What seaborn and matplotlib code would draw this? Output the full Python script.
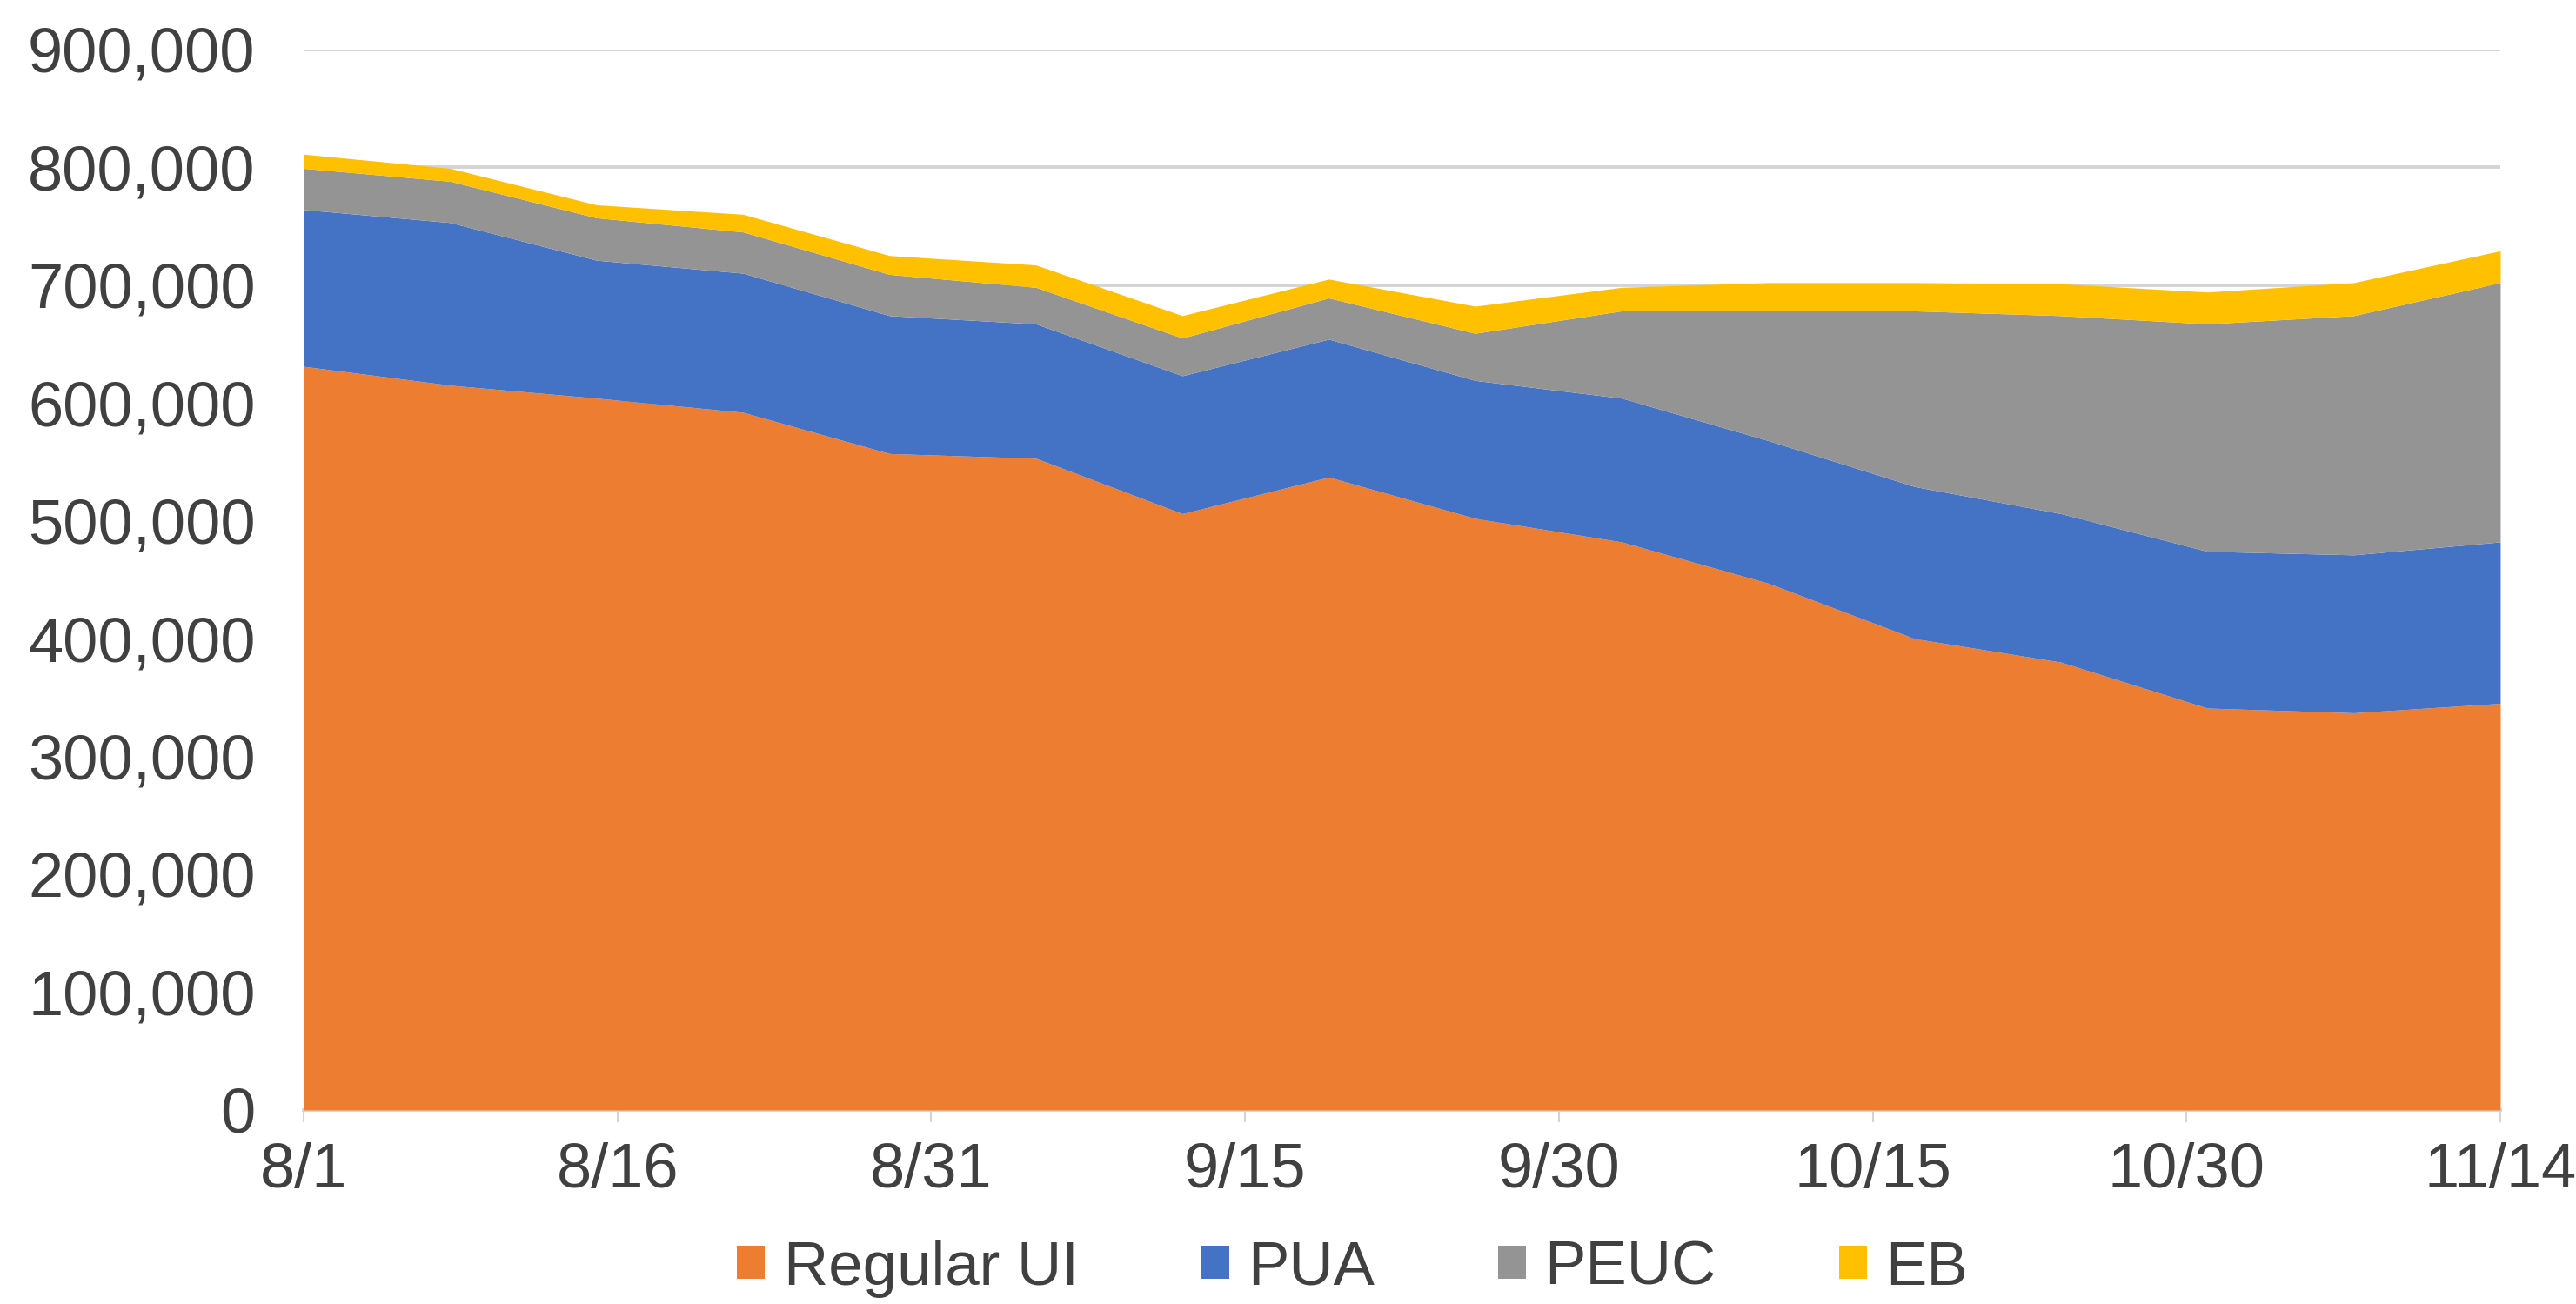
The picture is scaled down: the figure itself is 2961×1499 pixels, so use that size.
import pandas as pd
import matplotlib
matplotlib.use("Agg")
import matplotlib.pyplot as plt
from matplotlib.patches import Patch
from matplotlib.ticker import FuncFormatter
import seaborn as sns

# weekly claims, week ending dates
week_ending = ["2020-08-01", "2020-08-08", "2020-08-15", "2020-08-22",
               "2020-08-29", "2020-09-05", "2020-09-12", "2020-09-19",
               "2020-09-26", "2020-10-03", "2020-10-10", "2020-10-17",
               "2020-10-24", "2020-10-31", "2020-11-07", "2020-11-14"]

regular_ui = [631000, 615000, 604000, 592000, 557000, 553000, 506000, 537000,
              502000, 482000, 447000, 400000, 380000, 341000, 337000, 345000]
pua = [133000, 138000, 117000, 118000, 117000, 114000, 117000, 117000,
       117000, 122000, 121000, 129000, 126000, 133000, 134000, 137000]
peuc = [35000, 35000, 36000, 35000, 35000, 31000, 32000, 35000,
        40000, 74000, 110000, 149000, 168000, 193000, 203000, 220000]
eb = [12000, 11000, 11000, 15000, 16000, 19000, 19000, 16000,
      23000, 20000, 24000, 24000, 27000, 27000, 28000, 27000]

series_names = ["Regular UI", "PUA", "PEUC", "EB"]
series_colors = ["#ED7D31", "#4472C4", "#949494", "#FFC000"]

tick_dates = ["2020-08-01", "2020-08-16", "2020-08-31", "2020-09-15",
              "2020-09-30", "2020-10-15", "2020-10-30", "2020-11-14"]
tick_labels = ["8/1", "8/16", "8/31", "9/15", "9/30", "10/15", "10/30", "11/14"]
y_ticks = [0, 100000, 200000, 300000, 400000, 500000, 600000, 700000, 800000, 900000]

df = pd.DataFrame({"date": pd.to_datetime(week_ending),
                   "Regular UI": regular_ui, "PUA": pua,
                   "PEUC": peuc, "EB": eb})

sns.set_theme(style="white")
plt.rcParams["font.family"] = ["Liberation Sans", "DejaVu Sans"]
text_color = "#404040"
palette = sns.color_palette(series_colors)

fig = plt.figure(figsize=(29.61, 14.99), dpi=100)
ax = fig.add_axes([0.1179, 0.1488, 0.9706 - 0.1179, 0.9622 - 0.1488])

ax.stackplot(df["date"], [df[n] for n in series_names],
             colors=palette, linewidth=0, zorder=2)

ax.set_ylim(0, 900000)
ax.set_yticks(y_ticks)
ax.yaxis.set_major_formatter(FuncFormatter(lambda v, p: "{:,.0f}".format(v)))
ax.set_xlim(pd.Timestamp(tick_dates[0]), pd.Timestamp(tick_dates[-1]))
ax.set_xticks(pd.to_datetime(tick_dates))
ax.set_xticklabels(tick_labels)

ax.grid(axis="y", color="#d4d4d4", linewidth=2.8, zorder=0)
ax.grid(axis="x", visible=False)
ax.set_axisbelow(True)
sns.despine(ax=ax, left=True)
ax.spines["bottom"].set_color("#d4d4d4")
ax.spines["bottom"].set_linewidth(2.8)
ax.spines["bottom"].set_zorder(1)

ax.tick_params(axis="y", length=0, pad=40, labelsize=52, labelcolor=text_color)
ax.tick_params(axis="x", length=10, width=1.5, color="#d4d4d4", direction="out",
               pad=17, labelsize=52, labelcolor=text_color, bottom=True)
ax.set_xlabel("")
ax.set_ylabel("")

handles = [Patch(facecolor=c, edgecolor="none") for c in palette]
fig.legend(handles, series_names, loc="center", ncol=4,
           bbox_to_anchor=(0.525, 0.027), frameon=False,
           fontsize=51, labelcolor=text_color,
           handlelength=0.45, handleheight=0.45, handletextpad=0.3,
           columnspacing=2.0)

fig.savefig("out.png", dpi=100, facecolor="white")
